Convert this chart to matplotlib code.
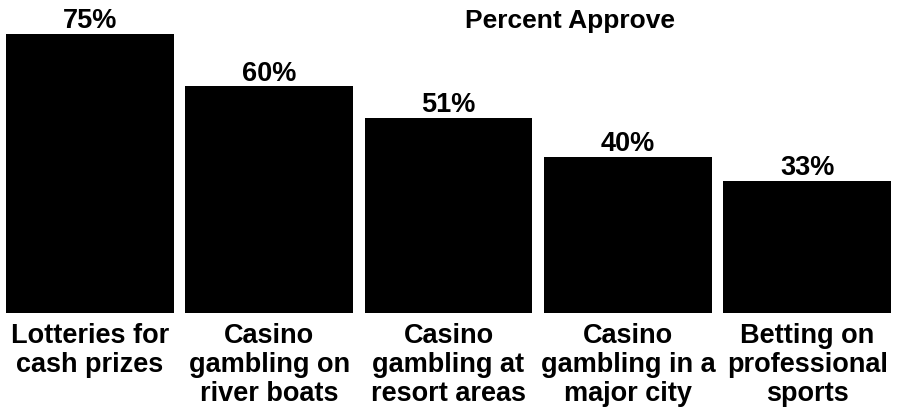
import matplotlib.pyplot as plt

categories = ["Lotteries for\ncash prizes",
              "Casino\ngambling on\nriver boats",
              "Casino\ngambling at\nresort areas",
              "Casino\ngambling in a\nmajor city",
              "Betting on\nprofessional\nsports"]
approve = [75, 60, 51, 40, 33]
value_labels = ["75%", "60%", "51%", "40%", "33%"]

plt.rcParams['font.family'] = ['Liberation Sans', 'DejaVu Sans']

fig = plt.figure(figsize=(8.97, 4.08), dpi=100)
ax = fig.add_axes([0, 1 - 313 / 408, 1, 313 / 408])

# bars in the original start a little below zero
base = -4.7
x = range(len(approve))
ax.bar(x, [v - base for v in approve], width=0.935, color='black', bottom=base)
ax.set_xlim(-0.5, 4.5)
ax.set_ylim(base, 84.7)
ax.axis('off')

for i, v in enumerate(approve):
    ax.annotate(value_labels[i], (i, v), xytext=(0, 4), textcoords='offset points',
                ha='center', va='baseline', fontsize=19.5, fontweight='bold')
    ax.annotate(categories[i], (i, base), xytext=(0, -7), textcoords='offset points',
                ha='center', va='top', fontsize=19.5, fontweight='bold',
                linespacing=1.15)

ax.text(2.68, 76.7, "Percent Approve", ha='center', va='baseline',
        fontsize=19, fontweight='bold')

fig.savefig('out.png', dpi=100)
